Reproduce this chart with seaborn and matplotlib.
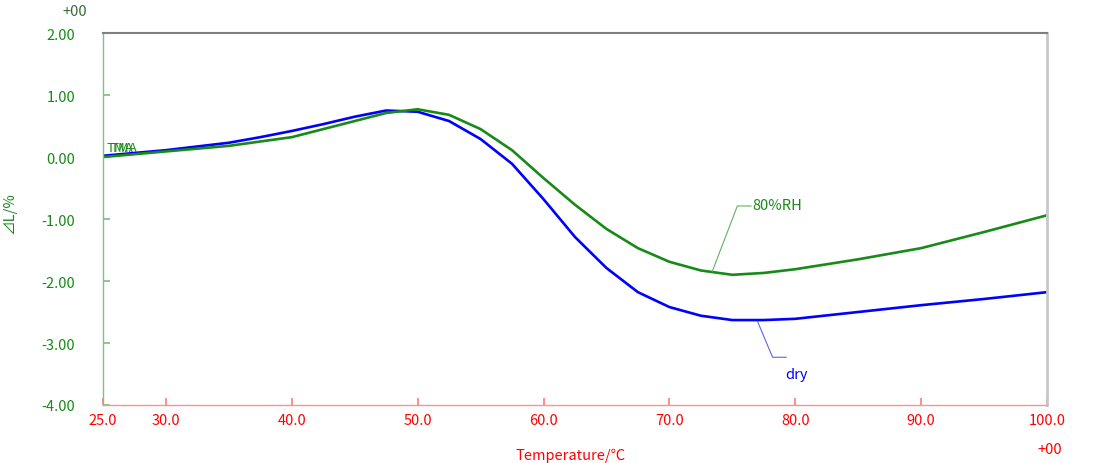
import pandas as pd
import matplotlib
matplotlib.use("Agg")
import matplotlib.pyplot as plt
import seaborn as sns

# --- data ---
temperature = [25, 30, 35, 37.5, 40, 42.5, 45, 47.5, 50, 52.5, 55, 57.5, 60,
               62.5, 65, 67.5, 70, 72.5, 75, 77.5, 80, 85, 90, 95, 100]
dry = [0.02, 0.11, 0.23, 0.32, 0.42, 0.53, 0.65, 0.75, 0.73, 0.58, 0.29,
       -0.11, -0.68, -1.29, -1.79, -2.18, -2.42, -2.56, -2.63, -2.63, -2.61,
       -2.50, -2.39, -2.29, -2.18]
rh80 = [0.00, 0.09, 0.18, 0.25, 0.32, 0.45, 0.58, 0.71, 0.77, 0.68, 0.45,
        0.11, -0.34, -0.77, -1.16, -1.47, -1.69, -1.83, -1.90, -1.87, -1.81,
        -1.65, -1.47, -1.21, -0.94]
series_names = ["dry", "80%RH"]
x_ticks = [25, 30, 40, 50, 60, 70, 80, 90, 100]
y_ticks = [-4, -3, -2, -1, 0, 1, 2]

df = pd.concat([
    pd.DataFrame({"T": temperature, "dL": dry, "cond": "dry"}),
    pd.DataFrame({"T": temperature, "dL": rh80, "cond": "80%RH"}),
])

sns.set_theme(style="white")
plt.rcParams["font.family"] = ["Noto Sans CJK JP", "DejaVu Sans"]

GREEN = "#178a17"
BLUE = "#0000ff"
RED = "#ff0000"
FS = 10.5

fig = plt.figure(figsize=(11, 4.64), dpi=100)
ax = fig.add_axes([0.0936, 0.125, 0.8582, 0.8017])

sns.lineplot(data=df, x="T", y="dL", hue="cond", hue_order=series_names,
             palette=[BLUE, GREEN], linewidth=1.9, legend=False, ax=ax)

ax.set_xlim(25, 100)
ax.set_ylim(-4, 2)
ax.set_xticks(x_ticks)
ax.set_xticklabels([f"{v:.1f}" for v in x_ticks])
ax.set_yticks(y_ticks)
ax.set_yticklabels([f"{v:.2f}" for v in y_ticks])

ax.tick_params(axis="x", direction="in", length=5, color="#ff8080",
               labelcolor=RED, labelsize=FS, pad=6, bottom=True)
ax.tick_params(axis="y", direction="in", length=5, color="#80c080",
               labelcolor=GREEN, labelsize=FS, pad=20, left=True)

ax.spines["top"].set_color("#808080")
ax.spines["top"].set_linewidth(1.5)
ax.spines["right"].set_color("#c8c8c8")
ax.spines["right"].set_linewidth(2)
ax.spines["left"].set_color("#80c080")
ax.spines["left"].set_linewidth(1)
ax.spines["bottom"].set_color("#ff9090")
ax.spines["bottom"].set_linewidth(1)

ax.set_xlabel("Temperature/℃", color=RED, fontsize=FS)
ax.xaxis.set_label_coords(0.495, -0.115)
ax.set_ylabel("⊿L/%", color=GREEN, fontsize=FS)
ax.yaxis.set_label_coords(-0.091, 0.52)

ax.text(-0.03, 1.06, "+00", transform=ax.transAxes, ha="center", va="center",
        color="#3a6a3a", fontsize=FS)
ax.text(1.003, -0.118, "+00", transform=ax.transAxes, ha="center", va="center",
        color=RED, fontsize=FS)

# overlapping TMA tags at curve start
ax.text(25.3, 0.05, "TMA", color=GREEN, fontsize=9.5, va="bottom")
ax.text(25.6, 0.05, "TMA", color=GREEN, fontsize=9.5, va="bottom")

# leader-line labels
ax.plot([73.4, 75.4, 76.5], [-1.85, -0.79, -0.79], color="#60b060", lw=0.8)
ax.text(76.6, -0.77, "80%RH", color=GREEN, fontsize=FS, va="center")
ax.plot([77.0, 78.2, 79.3], [-2.65, -3.23, -3.23], color="#6060ff", lw=0.8)
ax.text(79.2, -3.5, "dry", color=BLUE, fontsize=FS, va="center")

fig.savefig("out.png", dpi=100)
